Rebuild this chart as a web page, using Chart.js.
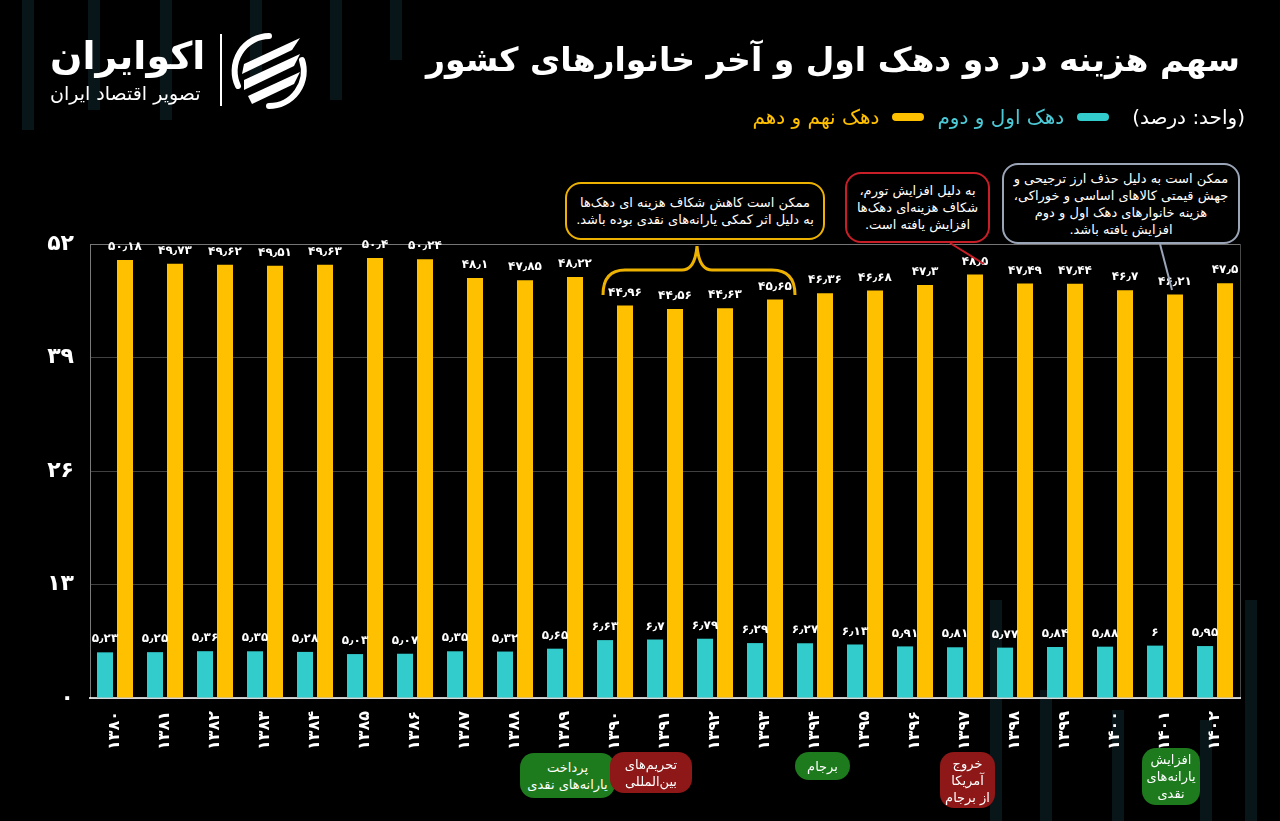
<!DOCTYPE html>
<html lang="fa">
<head>
<meta charset="utf-8">
<script src="https://cdn.jsdelivr.net/npm/chart.js@4.4.1/dist/chart.umd.min.js"></script>
<style>
  html, body { margin: 0; padding: 0; background: #000; }
  body { width: 1280px; height: 821px; position: relative; overflow: hidden; font-family: "DejaVu Sans", sans-serif; color: #fff; }
  #chart { position: absolute; left: 0; top: 0; }
  .abs { position: absolute; }
  .deco { position: absolute; background: rgba(24, 64, 74, 0.35); width: 12px; }
  .title { right: 40px; top: 40px; font-size: 33px; font-weight: bold; direction: rtl; white-space: nowrap; }
  .legend { right: 35px; top: 105px; font-size: 20px; direction: rtl; white-space: nowrap; display: flex; align-items: center; gap: 9px; }
  .legend .dash { display: inline-block; width: 32px; height: 8px; border-radius: 4px; margin: 0 4px; }
  .brand { left: 50px; top: 34px; font-size: 38px; font-weight: bold; direction: rtl; }
  .brand-sub { left: 50px; top: 82px; font-size: 19px; direction: rtl; white-space: nowrap; }
  .vline { left: 220px; top: 34px; width: 2px; height: 72px; background: #fff; }
  .callout { direction: rtl; text-align: center; font-size: 13px; line-height: 17px; border-radius: 16px; background: #000; box-sizing: border-box; display: flex; align-items: center; justify-content: center; }
  .pill { direction: rtl; text-align: center; font-size: 13px; line-height: 17px; border-radius: 14px; box-sizing: border-box; display: flex; align-items: center; justify-content: center; }
  .green { background: #1d7a1d; }
  .red { background: #8e1717; }
</style>
</head>
<body>
<!-- faint background stripes -->
<div class="deco" style="left:22px;top:0;height:130px"></div>
<div class="deco" style="left:88px;top:0;height:110px"></div>
<div class="deco" style="left:160px;top:0;height:120px"></div>
<div class="deco" style="left:250px;top:0;height:80px"></div>
<div class="deco" style="left:330px;top:0;height:100px"></div>
<div class="deco" style="left:390px;top:0;height:60px"></div>
<div class="deco" style="left:990px;top:600px;height:221px"></div>
<div class="deco" style="left:1040px;top:690px;height:131px"></div>
<div class="deco" style="left:1112px;top:710px;height:111px"></div>
<div class="deco" style="left:1245px;top:600px;height:221px"></div>
<div class="deco" style="left:1200px;top:720px;height:101px"></div>

<canvas id="chart" width="1280" height="821"></canvas>

<div class="abs title">سهم هزینه در دو دهک اول و آخر خانوارهای کشور</div>
<div class="abs legend">
  <span>(واحد: درصد)</span>
  <span class="dash" style="background:#33cccc;margin-right:14px"></span>
  <span style="color:#4cc9d6">دهک اول و دوم</span>
  <span class="dash" style="background:#ffc000"></span>
  <span style="color:#ffc000">دهک نهم و دهم</span>
</div>

<div class="abs brand">اکوایران</div>
<div class="abs brand-sub">تصویر اقتصاد ایران</div>
<div class="abs vline"></div>
<svg class="abs" style="left:230px;top:32px" width="78" height="78" viewBox="0 0 78 78">
  <path d="M39 4 A35 35 0 0 0 8 54" fill="none" stroke="#fff" stroke-width="6" stroke-linecap="round"/>
  <path d="M39 74 A35 35 0 0 0 72 28" fill="none" stroke="#fff" stroke-width="6" stroke-linecap="round"/>
  <path d="M14 32 L70 6 L62 18 L12 42 Z" fill="#fff"/>
  <path d="M14 48 L70 22 L64 34 L14 58 Z" fill="#fff"/>
  <path d="M18 64 L70 40 L64 52 L22 72 Z" fill="#fff"/>
</svg>

<!-- callouts -->
<div class="abs callout" style="left:565px;top:182px;width:260px;height:58px;border:2px solid #edb100">ممکن است کاهش شکاف هزینه ای دهک‌ها<br>به دلیل اثر کمکی یارانه‌های نقدی بوده باشد.</div>
<div class="abs callout" style="left:845px;top:172px;width:145px;height:71px;border:2px solid #c81e28">به دلیل افزایش تورم،<br>شکاف هزینه‌ای دهک‌ها<br>افزایش یافته است.</div>
<div class="abs callout" style="left:1002px;top:163px;width:238px;height:81px;border:2px solid #9ba5b8">ممکن است به دلیل حذف ارز ترجیحی و<br>جهش قیمتی کالاهای اساسی و خوراکی،<br>هزینه خانوارهای دهک اول و دوم<br>افزایش یافته باشد.</div>
<svg class="abs" style="left:0;top:0;pointer-events:none" width="1280" height="821">
  <path d="M603 295 Q603 270 625 270 L682 270 Q695 270 697 246 Q699 270 712 270 L772 270 Q795 270 795 295" fill="none" stroke="#edb100" stroke-width="3"/>
  <line x1="950" y1="243" x2="984" y2="264" stroke="#c81e28" stroke-width="2"/>
  <line x1="1160" y1="244" x2="1172" y2="290" stroke="#9ba5b8" stroke-width="2"/>
</svg>

<!-- event pills -->
<div class="abs pill green" style="left:520px;top:753px;width:95px;height:45px">پرداخت<br>یارانه‌های نقدی</div>
<div class="abs pill red" style="left:610px;top:752px;width:82px;height:41px">تحریم‌های<br>بین‌المللی</div>
<div class="abs pill green" style="left:795px;top:752px;width:55px;height:28px">برجام</div>
<div class="abs pill red" style="left:940px;top:752px;width:55px;height:56px">خروج<br>آمریکا<br>از برجام</div>
<div class="abs pill green" style="left:1142px;top:748px;width:58px;height:57px">افزایش<br>یارانه‌های<br>نقدی</div>

<script>
const years = ["۱۳۸۰", "۱۳۸۱", "۱۳۸۲", "۱۳۸۳", "۱۳۸۴", "۱۳۸۵", "۱۳۸۶", "۱۳۸۷", "۱۳۸۸", "۱۳۸۹", "۱۳۹۰", "۱۳۹۱",
  "۱۳۹۲", "۱۳۹۳", "۱۳۹۴", "۱۳۹۵", "۱۳۹۶", "۱۳۹۷", "۱۳۹۸", "۱۳۹۹", "۱۴۰۰", "۱۴۰۱", "۱۴۰۲"];
const lowDeciles = [5.23, 5.25, 5.36, 5.35, 5.28, 5.03, 5.07, 5.35, 5.32, 5.65, 6.63, 6.7,
  6.79, 6.29, 6.27, 6.13, 5.91, 5.81, 5.77, 5.84, 5.88, 6, 5.95];
const highDeciles = [50.18, 49.73, 49.62, 49.51, 49.63, 50.4, 50.24, 48.1, 47.85, 48.22, 44.96, 44.56,
  44.63, 45.65, 46.36, 46.68, 47.3, 48.5, 47.49, 47.44, 46.7, 46.21, 47.5];
const yTicks = [0, 13, 26, 39, 52];

const faDigits = "۰۱۲۳۴۵۶۷۸۹";
const toFa = (v) => String(v).replace(/\d/g, (d) => faDigits[d]).replace(".", "٫");

const FONT = "'DejaVu Sans', sans-serif";

// value labels above each bar
const valueLabels = {
  id: "valueLabels",
  afterDatasetsDraw(chart) {
    const ctx = chart.ctx;
    ctx.save();
    ctx.fillStyle = "#fff";
    ctx.font = `bold 12px ${FONT}`;
    ctx.textAlign = "center";
    ctx.textBaseline = "bottom";
    chart.data.datasets.forEach((ds, i) => {
      chart.getDatasetMeta(i).data.forEach((bar, j) => {
        ctx.fillText(toFa(ds.data[j]), bar.x, bar.y - 7);
      });
    });
    ctx.restore();
  },
};

// gray frame around the plot area
const frame = {
  id: "frame",
  beforeDatasetsDraw(chart) {
    const { ctx, chartArea: a } = chart;
    ctx.save();
    ctx.strokeStyle = "rgba(255,255,255,0.28)";
    ctx.lineWidth = 1;
    ctx.strokeRect(a.left + 0.5, a.top + 0.5, a.right - a.left, a.bottom - a.top);
    ctx.restore();
  },
};

new Chart(document.getElementById("chart"), {
  type: "bar",
  data: {
    labels: years,
    datasets: [
      { label: "دهک اول و دوم", data: lowDeciles, backgroundColor: "#33cccc" },
      { label: "دهک نهم و دهم", data: highDeciles, backgroundColor: "#ffc000" },
    ],
  },
  options: {
    responsive: false,
    animation: false,
    devicePixelRatio: 1,
    categoryPercentage: 0.8,
    barPercentage: 0.8,
    layout: { padding: { top: 244, right: 40, left: 0, bottom: 0 } },
    plugins: { legend: { display: false }, tooltip: { enabled: false } },
    scales: {
      x: {
        afterFit: (s) => { s.height = 123; },
        grid: { display: false },
        border: { color: "#c8c8c8", width: 2 },
        ticks: {
          color: "#fff",
          font: { family: FONT, size: 16, weight: "bold" },
          maxRotation: 90,
          minRotation: 90,
          padding: 5,
        },
      },
      y: {
        min: 0,
        max: 52,
        afterFit: (s) => { s.width = 90; },
        afterBuildTicks: (s) => { s.ticks = yTicks.map((v) => ({ value: v })); },
        grid: { color: "rgba(255,255,255,0.25)", drawTicks: false },
        border: { color: "rgba(255,255,255,0.28)" },
        ticks: {
          color: "#fff",
          padding: 16,
          font: { family: FONT, size: 22, weight: "bold" },
          callback: (v) => toFa(v),
        },
      },
    },
  },
  plugins: [valueLabels, frame],
});
</script>
</body>
</html>
